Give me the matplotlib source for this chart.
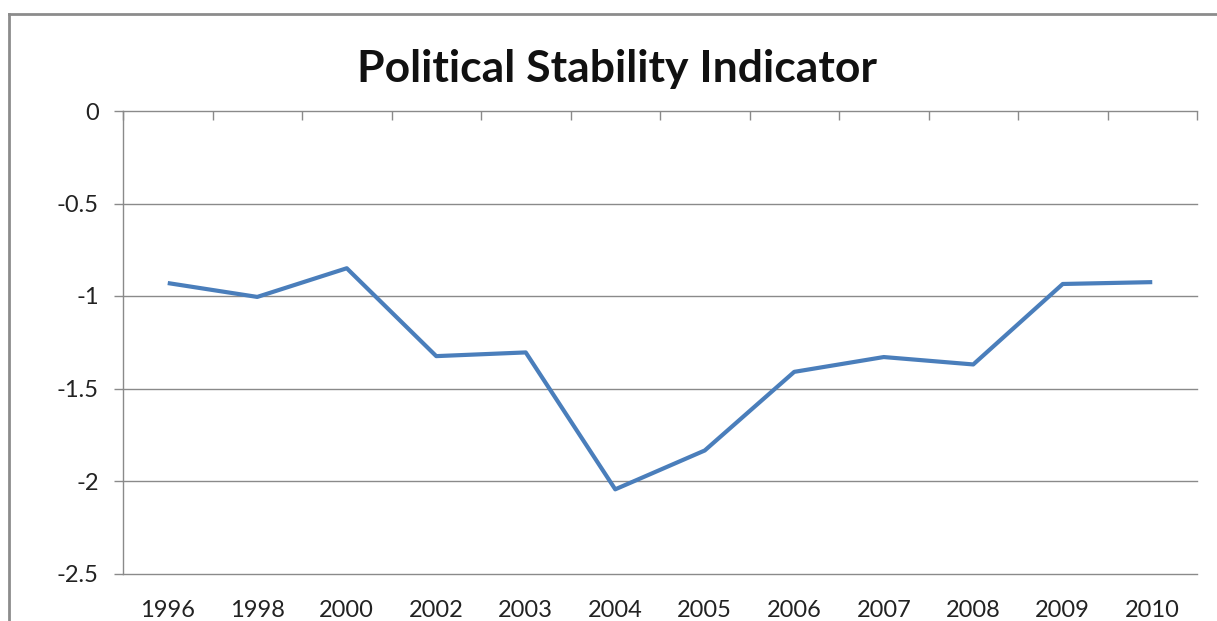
import matplotlib.pyplot as plt
from matplotlib.lines import Line2D
from matplotlib.ticker import FixedLocator

plt.rcParams['font.family'] = ['Lato', 'DejaVu Sans']

years = ['1996', '1998', '2000', '2002', '2003', '2004',
         '2005', '2006', '2007', '2008', '2009', '2010']
stability = [-0.93, -1.005, -0.85, -1.325, -1.305, -2.045,
             -1.835, -1.41, -1.33, -1.37, -0.935, -0.925]
y_ticks = [0, -0.5, -1, -1.5, -2, -2.5]
y_labels = ['0', '-0.5', '-1', '-1.5', '-2', '-2.5']

W, H = 1217, 621
fig = plt.figure(figsize=(W / 100, H / 100), dpi=100)
ax = fig.add_axes([123 / W, 1 - 573.5 / H, (1197 - 123) / W, (573.5 - 111) / H])

grid_c = '#8a8a8a'
x = list(range(len(years)))
ax.plot(x, stability, color='#4a7ebb', lw=3, solid_capstyle='butt', zorder=3)

ax.set_xlim(-0.5, len(years) - 0.5)
ax.set_ylim(-2.5, 0)

# category labels at the bottom, boundary ticks on the zero line
ax.set_xticks(x)
ax.set_xticklabels(years)
ax.xaxis.set_minor_locator(FixedLocator([i - 0.5 for i in range(len(years) + 1)]))
ax.tick_params(axis='x', which='major', bottom=True, top=False, length=0,
               pad=19, labelsize=17, labelcolor='#222222')
ax.tick_params(axis='x', which='minor', bottom=False, top=True, direction='in',
               length=6.5, width=1, color=grid_c)

ax.set_yticks(y_ticks)
ax.set_yticklabels(y_labels)
ax.tick_params(axis='y', direction='out', length=6.5, width=1, color=grid_c,
               pad=11, labelsize=17, labelcolor='#222222')
ax.grid(axis='y', color=grid_c, lw=1)
ax.set_axisbelow(True)
for gl in ax.get_ygridlines():
    gl.set_clip_on(False)

for s in ['top', 'right', 'bottom']:
    ax.spines[s].set_visible(False)
ax.spines['left'].set_color(grid_c)
ax.spines['left'].set_linewidth(1)

# the outer chart frame, cut off at the right and bottom
fig.add_artist(Line2D([9 / W, 9 / W], [0, 1 - 14 / H], color='#8c8c8c', lw=2))
fig.add_artist(Line2D([9 / W, 1], [1 - 14 / H, 1 - 14 / H], color='#8c8c8c', lw=2))

fig.text(617 / W, 1 - 82 / H, 'Political Stability Indicator', ha='center',
         va='baseline', fontsize=32, fontweight='bold', color='#111111')

fig.savefig('out.png', dpi=100)
